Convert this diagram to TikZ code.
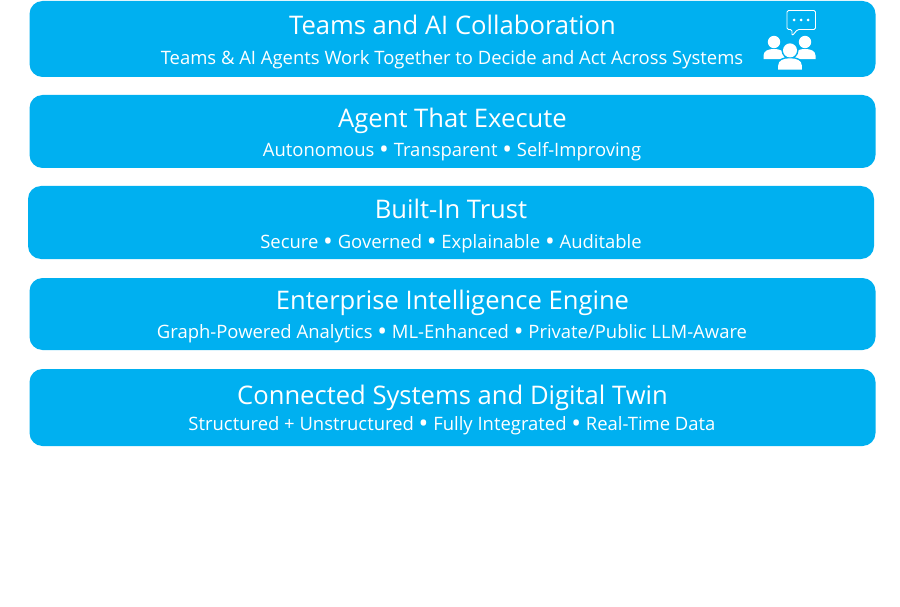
\documentclass[tikz,border=0pt]{standalone}
\usepackage{fontspec}
\setmainfont{Open Sans}
\usepackage{xcolor}
\definecolor{Layer}{RGB}{0,176,240}
\tikzset{
  layerbar/.style={fill=Layer,rounded corners=13pt,minimum width=846pt,inner sep=0pt,outer sep=0pt},
  layertitle/.style={text=white,font=\fontsize{25.6}{30}\selectfont,inner sep=0pt,anchor=mid},
  layersub/.style={text=white,font=\fontsize{18.45}{22}\selectfont,inner sep=0pt,anchor=mid},
  iconline/.style={draw=white,line width=0.9pt,line join=round},
  iconfill/.style={fill=white,draw=none},
  iconmask/.style={fill=Layer,draw=Layer,line width=3pt}
}
\newcommand{\LayerBar}[6]{% name xcenter ytop height title ytitle
  \node[layerbar,minimum height=#4pt,anchor=north] (#1) at (#2,#3) {};
  \node[layertitle] (#1title) at (#2,#6) {#5};
}
\newcommand{\Sep}{\raisebox{-2.2pt}{\fontsize{26}{26}\selectfont •}}
\newcommand{\IconPerson}[4]{% x y scale style
  \path[#4] (#1,#2-8.5*#3) circle (6.2*#3);
  \path[#4] (#1-10.5*#3,#2+8.6*#3) -- (#1-10.5*#3,#2+5*#3)
    .. controls (#1-10.5*#3,#2) and (#1-5*#3,#2-1.5*#3) .. (#1,#2-1.5*#3)
    .. controls (#1+5*#3,#2-1.5*#3) and (#1+10.5*#3,#2) .. (#1+10.5*#3,#2+5*#3)
    -- (#1+10.5*#3,#2+8.6*#3) -- cycle;
}
\begin{document}
\begin{tikzpicture}[x=1pt,y=-1pt]
\useasboundingbox (0,0) rectangle (900,607);
% the five layers, top to bottom
\LayerBar{teams}{452.5}{1}{76}{Teams and AI Collaboration}{32}
\LayerBar{agent}{452.5}{95}{73}{Agent That Execute}{125}
\LayerBar{trust}{451}{186}{73}{Built-In Trust}{216}
\LayerBar{engine}{452.5}{278}{72}{Enterprise Intelligence Engine}{307}
\LayerBar{twin}{452.5}{369}{77}{Connected Systems and Digital Twin}{402}
% second lines
\node[layersub] (teamssub) at (452,62) {Teams \& AI Agents Work Together to Decide and Act Across Systems};
\node[layersub] (agentsub) at (452,154) {Autonomous \Sep{} Transparent \Sep{} Self-Improving};
\node[layersub] (trustsub) at (451,246) {Secure \Sep{} Governed \Sep{} Explainable \Sep{} Auditable};
\node[layersub] (enginesub) at (452,336) {Graph-Powered Analytics \Sep{} ML-Enhanced \Sep{} Private/Public LLM-Aware};
\node[layersub] (twinsub) at (452,428) {Structured + Unstructured \Sep{} Fully Integrated \Sep{} Real-Time Data};
% people icon with speech bubble
\draw[iconline,rounded corners=1.5pt] (787,10.5) -- (815.5,10.5) -- (815.5,29.5) -- (797.5,29.5) -- (792,36) -- (792,29.5) -- (787,29.5) -- cycle;
\foreach \dotx in {794,801,808} \fill[white] (\dotx,20) circle (1.5);
\IconPerson{774}{50.5}{1}{iconfill}
\IconPerson{805}{50.5}{1}{iconfill}
\IconPerson{790}{60}{1.13}{iconmask}
\IconPerson{790}{60}{1.13}{iconfill}
\end{tikzpicture}
\end{document}
